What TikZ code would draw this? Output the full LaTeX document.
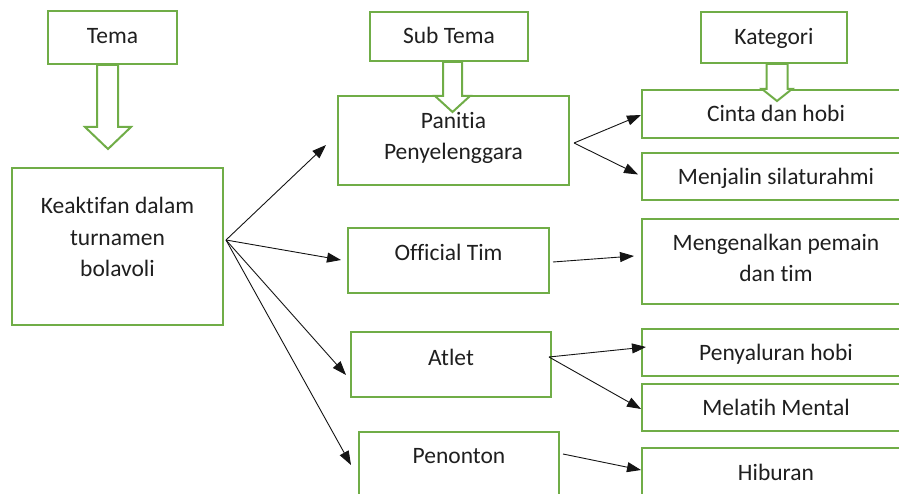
\documentclass[tikz,border=0pt]{standalone}
\usepackage{fontspec}
\setmainfont{Carlito}[Ligatures=NoCommon]
\usetikzlibrary{arrows.meta,calc}
\definecolor{boxgreen}{RGB}{112,173,71}
\definecolor{inkline}{RGB}{20,20,20}
\begin{document}
\begin{tikzpicture}[x=1pt,y=-1pt,
  box/.style={draw=boxgreen,line width=2pt,fill=white,inner sep=0pt,
    minimum width=#1},
  boxh/.style={minimum height=#1},
  lbl/.style={anchor=base,inner sep=0pt,align=center,
    font=\fontsize{23.5}{31.3}\selectfont,text=black!88},
  fat/.style={draw=boxgreen,line width=2pt,fill=white,line join=miter},
  conn/.style={draw=inkline,line width=0.9pt,-{Triangle[length=14pt,width=10pt]}}
]
\useasboundingbox (0,0) rectangle (899,494);
\clip (0,0) rectangle (899,494);

% column headers
\node[box=129,boxh=53] (tema) at (112.5,37.5) {};
\node[box=158,boxh=49] (subtema) at (449,36.5) {};
\node[box=146,boxh=51] (kategori) at (774,37.5) {};

% theme
\node[box=211,boxh=157] (keak) at (117.5,246.5) {};

% sub themes
\node[box=231,boxh=89] (pan) at (453.5,140.5) {};
\node[box=201,boxh=65] (off) at (448.5,260.5) {};
\node[box=200,boxh=65] (atl) at (451,364.5) {};
\node[box=200,boxh=65] (pen) at (459,464.5) {};

% categories (run past the right edge)
\node[box=268,boxh=48] (cin) at (776,114) {};
\node[box=268,boxh=47] (menj) at (776,176.5) {};
\node[box=268,boxh=85] (meng) at (776,261.5) {};
\node[box=268,boxh=47] (peny) at (776,352.5) {};
\node[box=268,boxh=47] (mel) at (776,407.5) {};
\node[box=268,boxh=48] (hib) at (776,472) {};

% hollow block arrows under the headers
\draw[fat] ($(tema.south)+(-15.5,0)$) -- ++(0,62) -- ++(-12,0) -- ++(23,22)
  -- ++(23,-22) -- ++(-13,0) -- ++(0,-62) -- cycle;
\draw[fat] ($(subtema.south)+(-6,0)$) -- ++(0,34) -- ++(-8,0) -- ++(17.5,16)
  -- ++(17.5,-16) -- ++(-8,0) -- ++(0,-34) -- cycle;
\draw[fat] ($(kategori.south)+(-7.5,0)$) -- ++(0,25) -- ++(-4.5,0) -- ++(15,12)
  -- ++(15,-12) -- ++(-4.5,0) -- ++(0,-25) -- cycle;

% texts (multi-line labels sit on the baseline of their last line)
\node[lbl] (tema-t) at (112.5,43.5) {Tema};
\node[lbl] (subtema-t) at (449,44) {Sub Tema};
\node[lbl] (kategori-t) at (774,45) {Kategori};
\node[lbl] (keak-t) at (117.5,276.5) {Keaktifan dalam\\turnamen\\bolavoli};
\node[lbl] (pan-t) at (453.5,160) {Panitia\\Penyelenggara};
\node[lbl] (off-t) at (448.5,261) {Official Tim};
\node[lbl] (atl-t) at (451,365) {Atlet};
\node[lbl] (pen-t) at (459,463) {Penonton};
\node[lbl] (cin-t) at (776,121.7) {Cinta dan hobi};
\node[lbl] (menj-t) at (776,185) {Menjalin silaturahmi};
\node[lbl] (meng-t) at (776,282) {Mengenalkan pemain\\dan tim};
\node[lbl] (peny-t) at (776,360) {Penyaluran hobi};
\node[lbl] (mel-t) at (776,415.7) {Melatih Mental};
\node[lbl] (hib-t) at (776,480.7) {Hiburan};

% connectors
\draw[conn] ($(keak.east)+(2,-6.5)$) -- ($(pan.west)+(-11,4.5)$);
\draw[conn] ($(keak.east)+(2,-6.5)$) -- ($(off.west)+(-6,-0.5)$);
\draw[conn] ($(keak.east)+(2,-6.5)$) -- ($(atl.west)+(-4,10.5)$);
\draw[conn] ($(keak.east)+(2,-6.5)$) -- ($(pen.west)+(-7,0.5)$);
\draw[conn] ($(pan.east)+(4,2.5)$) -- ($(cin.west)+(0,1)$);
\draw[conn] ($(pan.east)+(4,2.5)$) -- ($(menj.west)+(-3,-2)$);
\draw[conn] ($(off.east)+(3,1.5)$) -- ($(meng.west)+(-7,-5.5)$);
\draw[conn] ($(atl.east)+(-3,-7.5)$) -- ($(peny.west)+(5,-5.5)$);
\draw[conn] ($(atl.east)+(-3,-7.5)$) -- ($(mel.west)+(0,1.5)$);
\draw[conn] ($(pen.east)+(3,-10.5)$) -- ($(hib.west)+(0,-2)$);
\end{tikzpicture}
\end{document}
